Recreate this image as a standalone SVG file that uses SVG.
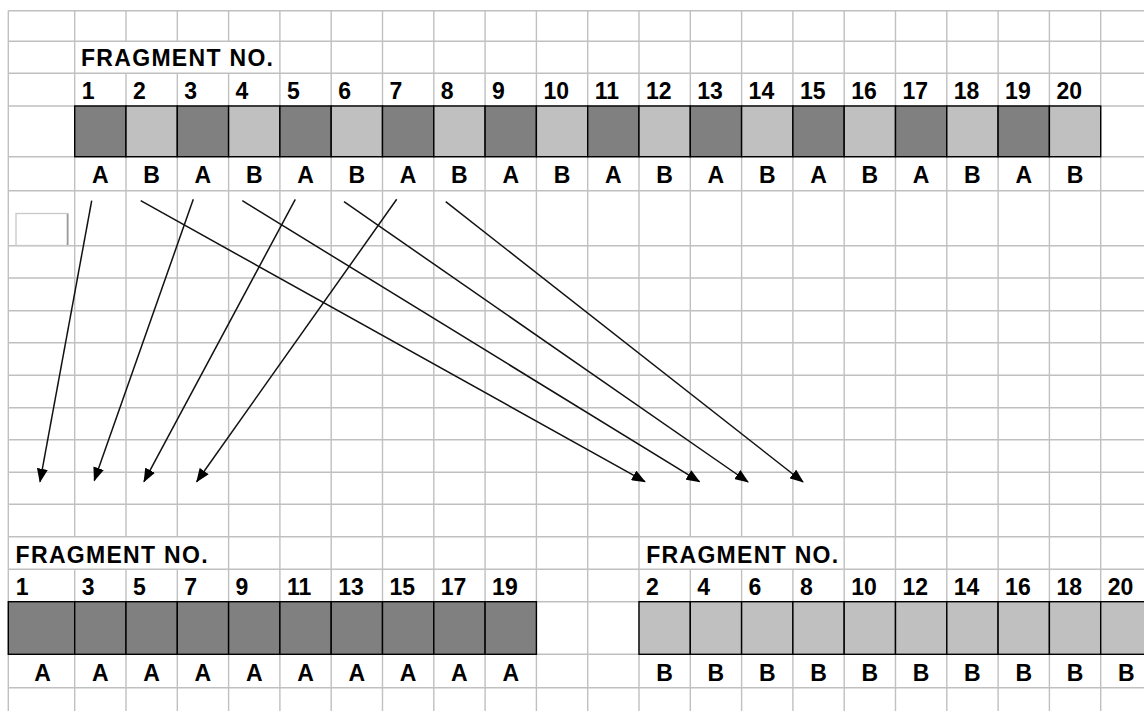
<svg xmlns="http://www.w3.org/2000/svg" width="1144" height="711" viewBox="0 0 1144 711">
<style>
.grid{stroke:#c0c0c0;stroke-width:1.4;fill:none}
.cell{stroke:#000;stroke-width:1.4}
.dk{fill:#808080}
.lt{fill:#c0c0c0}
.t{font-family:"Liberation Sans",Arial,sans-serif;font-weight:bold;font-size:23px;fill:#000}
.c{text-anchor:middle}
.arr{stroke:#111;stroke-width:1.5;fill:none;marker-end:url(#ah)}
</style>
<defs>
<marker id="ah" viewBox="0 0 14 11" refX="13" refY="5.5" markerWidth="14" markerHeight="11" orient="auto" markerUnits="userSpaceOnUse">
<path d="M0,0 L14,5.5 L0,11 z" fill="#000"/>
</marker>
</defs>
<rect width="1144" height="711" fill="#fff"/>
<g id="grid">
<path class="grid" d="M8.3 10.7H1144M8.3 41.3H1144M8.3 73.3H1144M8.3 106H1144M8.3 156.7H1144M8.3 190.7H1144M8.3 245.7H1144M8.3 278H1144M8.3 310.7H1144M8.3 342.7H1144M8.3 375.3H1144M8.3 407.7H1144M8.3 439.7H1144M8.3 472.3H1144M8.3 504.3H1144M8.3 536.7H1144M8.3 569.3H1144M8.3 601.7H1144M8.3 654.3H1144M8.3 687.7H1144
M8.3 10.7V711
M74.7 10.7V536.7M74.7 569.3V711
M126 10.7V41.3M126 73.3V536.7M126 569.3V711
M177.3 10.7V41.3M177.3 73.3V536.7M177.3 569.3V711
M228.6 10.7V41.3M228.6 73.3V711
M279.9 10.7V711M331.2 10.7V711M382.5 10.7V711M433.8 10.7V711M485.1 10.7V711M536.4 10.7V711M587.7 10.7V711M639 10.7V711
M690.3 10.7V536.7M690.3 569.3V711
M741.6 10.7V536.7M741.6 569.3V711
M792.9 10.7V536.7M792.9 569.3V711
M844.2 10.7V711M895.5 10.7V711M946.8 10.7V711M998.1 10.7V711M1049.4 10.7V711M1100.7 10.7V711"/>
<rect x="16" y="213.5" width="52" height="32" fill="#fff" stroke="#c8c8c8" stroke-width="1.3"/>
<path d="M67.5 214V245" stroke="#9a9a9a" stroke-width="1.6"/>
</g>
<g id="top-bar">
<text class="t" x="81" y="66" textLength="192" lengthAdjust="spacing">FRAGMENT NO.</text>
<rect class="cell dk" x="74.7" y="106" width="51.3" height="50.7"/>
<rect class="cell lt" x="126" y="106" width="51.3" height="50.7"/>
<rect class="cell dk" x="177.3" y="106" width="51.3" height="50.7"/>
<rect class="cell lt" x="228.6" y="106" width="51.3" height="50.7"/>
<rect class="cell dk" x="279.9" y="106" width="51.3" height="50.7"/>
<rect class="cell lt" x="331.2" y="106" width="51.3" height="50.7"/>
<rect class="cell dk" x="382.5" y="106" width="51.3" height="50.7"/>
<rect class="cell lt" x="433.8" y="106" width="51.3" height="50.7"/>
<rect class="cell dk" x="485.1" y="106" width="51.3" height="50.7"/>
<rect class="cell lt" x="536.4" y="106" width="51.3" height="50.7"/>
<rect class="cell dk" x="587.7" y="106" width="51.3" height="50.7"/>
<rect class="cell lt" x="639" y="106" width="51.3" height="50.7"/>
<rect class="cell dk" x="690.3" y="106" width="51.3" height="50.7"/>
<rect class="cell lt" x="741.6" y="106" width="51.3" height="50.7"/>
<rect class="cell dk" x="792.9" y="106" width="51.3" height="50.7"/>
<rect class="cell lt" x="844.2" y="106" width="51.3" height="50.7"/>
<rect class="cell dk" x="895.5" y="106" width="51.3" height="50.7"/>
<rect class="cell lt" x="946.8" y="106" width="51.3" height="50.7"/>
<rect class="cell dk" x="998.1" y="106" width="51.3" height="50.7"/>
<rect class="cell lt" x="1049.4" y="106" width="51.3" height="50.7"/>
<g class="t">
<text x="81.7" y="99.3">1</text><text x="133" y="99.3">2</text><text x="184.3" y="99.3">3</text><text x="235.6" y="99.3">4</text><text x="286.9" y="99.3">5</text><text x="338.2" y="99.3">6</text><text x="389.5" y="99.3">7</text><text x="440.8" y="99.3">8</text><text x="492.1" y="99.3">9</text><text x="543.4" y="99.3">10</text><text x="594.7" y="99.3">11</text><text x="646" y="99.3">12</text><text x="697.3" y="99.3">13</text><text x="748.6" y="99.3">14</text><text x="799.9" y="99.3">15</text><text x="851.2" y="99.3">16</text><text x="902.5" y="99.3">17</text><text x="953.8" y="99.3">18</text><text x="1005.1" y="99.3">19</text><text x="1056.4" y="99.3">20</text>
</g>
<g class="t c">
<text x="100.3" y="183.3">A</text><text x="151.6" y="183.3">B</text><text x="202.9" y="183.3">A</text><text x="254.2" y="183.3">B</text><text x="305.5" y="183.3">A</text><text x="356.8" y="183.3">B</text><text x="408.1" y="183.3">A</text><text x="459.4" y="183.3">B</text><text x="510.7" y="183.3">A</text><text x="562" y="183.3">B</text><text x="613.3" y="183.3">A</text><text x="664.6" y="183.3">B</text><text x="715.9" y="183.3">A</text><text x="767.2" y="183.3">B</text><text x="818.5" y="183.3">A</text><text x="869.8" y="183.3">B</text><text x="921.1" y="183.3">A</text><text x="972.4" y="183.3">B</text><text x="1023.7" y="183.3">A</text><text x="1075" y="183.3">B</text>
</g>
</g>
<g id="connectors">
<line class="arr" x1="91.7" y1="200.7" x2="40" y2="481.7"/>
<line class="arr" x1="193.3" y1="199.3" x2="94.3" y2="480.5"/>
<line class="arr" x1="295.3" y1="199.3" x2="144" y2="481.7"/>
<line class="arr" x1="396.7" y1="199.3" x2="196.7" y2="481.7"/>
<line class="arr" x1="140.7" y1="200.7" x2="645" y2="481.7"/>
<line class="arr" x1="242.3" y1="200.7" x2="699.5" y2="481.7"/>
<line class="arr" x1="344" y1="201.7" x2="748" y2="482"/>
<line class="arr" x1="445.7" y1="201.7" x2="803" y2="482"/>
</g>
<g id="bottom-a">
<text class="t" x="15.6" y="562.7" textLength="192" lengthAdjust="spacing">FRAGMENT NO.</text>
<rect class="cell dk" x="8.3" y="601.7" width="66.4" height="52.6"/>
<rect class="cell dk" x="74.7" y="601.7" width="51.3" height="52.6"/>
<rect class="cell dk" x="126" y="601.7" width="51.3" height="52.6"/>
<rect class="cell dk" x="177.3" y="601.7" width="51.3" height="52.6"/>
<rect class="cell dk" x="228.6" y="601.7" width="51.3" height="52.6"/>
<rect class="cell dk" x="279.9" y="601.7" width="51.3" height="52.6"/>
<rect class="cell dk" x="331.2" y="601.7" width="51.3" height="52.6"/>
<rect class="cell dk" x="382.5" y="601.7" width="51.3" height="52.6"/>
<rect class="cell dk" x="433.8" y="601.7" width="51.3" height="52.6"/>
<rect class="cell dk" x="485.1" y="601.7" width="51.3" height="52.6"/>
<g class="t">
<text x="15.8" y="595">1</text><text x="81.7" y="595">3</text><text x="133" y="595">5</text><text x="184.3" y="595">7</text><text x="235.6" y="595">9</text><text x="286.9" y="595">11</text><text x="338.2" y="595">13</text><text x="389.5" y="595">15</text><text x="440.8" y="595">17</text><text x="492.1" y="595">19</text>
</g>
<g class="t c">
<text x="42.5" y="680.7">A</text><text x="100.3" y="680.7">A</text><text x="151.6" y="680.7">A</text><text x="202.9" y="680.7">A</text><text x="254.2" y="680.7">A</text><text x="305.5" y="680.7">A</text><text x="356.8" y="680.7">A</text><text x="408.1" y="680.7">A</text><text x="459.4" y="680.7">A</text><text x="510.7" y="680.7">A</text>
</g>
</g>
<g id="bottom-b">
<text class="t" x="646.2" y="562.7" textLength="192" lengthAdjust="spacing">FRAGMENT NO.</text>
<rect class="cell lt" x="639" y="601.7" width="51.3" height="52.6"/>
<rect class="cell lt" x="690.3" y="601.7" width="51.3" height="52.6"/>
<rect class="cell lt" x="741.6" y="601.7" width="51.3" height="52.6"/>
<rect class="cell lt" x="792.9" y="601.7" width="51.3" height="52.6"/>
<rect class="cell lt" x="844.2" y="601.7" width="51.3" height="52.6"/>
<rect class="cell lt" x="895.5" y="601.7" width="51.3" height="52.6"/>
<rect class="cell lt" x="946.8" y="601.7" width="51.3" height="52.6"/>
<rect class="cell lt" x="998.1" y="601.7" width="51.3" height="52.6"/>
<rect class="cell lt" x="1049.4" y="601.7" width="51.3" height="52.6"/>
<rect class="cell lt" x="1100.7" y="601.7" width="51.3" height="52.6"/>
<g class="t">
<text x="646" y="595">2</text><text x="697.3" y="595">4</text><text x="748.6" y="595">6</text><text x="799.9" y="595">8</text><text x="851.2" y="595">10</text><text x="902.5" y="595">12</text><text x="953.8" y="595">14</text><text x="1005.1" y="595">16</text><text x="1056.4" y="595">18</text><text x="1107.7" y="595">20</text>
</g>
<g class="t c">
<text x="664.6" y="680.7">B</text><text x="715.9" y="680.7">B</text><text x="767.2" y="680.7">B</text><text x="818.5" y="680.7">B</text><text x="869.8" y="680.7">B</text><text x="921.1" y="680.7">B</text><text x="972.4" y="680.7">B</text><text x="1023.7" y="680.7">B</text><text x="1075" y="680.7">B</text><text x="1126.3" y="680.7">B</text>
</g>
</g>
</svg>
